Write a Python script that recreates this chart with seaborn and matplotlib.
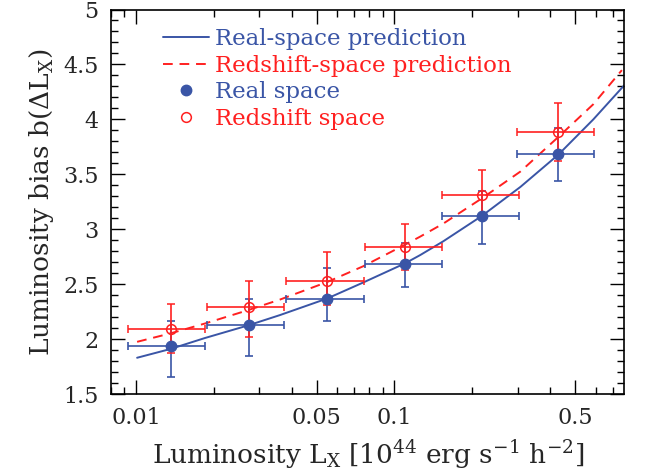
import matplotlib
matplotlib.use('Agg')
import matplotlib.pyplot as plt
import matplotlib.ticker as mticker
from matplotlib.lines import Line2D
import numpy as np
import seaborn as sns

# luminosity bins (centre and bin edges), 10^44 erg/s/h^2
lum = [0.0137, 0.0274, 0.0548, 0.110, 0.218, 0.431]
lum_lo = [0.0093, 0.0188, 0.0380, 0.0770, 0.1525, 0.299]
lum_hi = [0.0185, 0.0375, 0.0761, 0.1525, 0.304, 0.593]

# measured bias, real space
b_real = [1.936, 2.128, 2.367, 2.68, 3.122, 3.681]
b_real_lo = [1.657, 1.845, 2.164, 2.47, 2.862, 3.44]
b_real_hi = [2.167, 2.361, 2.649, 2.874, 3.35, 3.917]

# measured bias, redshift space
b_red = [2.091, 2.288, 2.530, 2.84, 3.310, 3.886]
b_red_lo = [1.875, 2.018, 2.309, 2.628, 3.09, 3.622]
b_red_hi = [2.316, 2.53, 2.795, 3.046, 3.535, 4.145]

# model predictions
curve_lum_real = [0.0101, 0.0136, 0.0185, 0.0272, 0.036, 0.055, 0.0757, 0.110,
                  0.1258, 0.1544, 0.2175, 0.307, 0.431, 0.588, 0.774]
curve_b_real = [1.83, 1.91, 2.01, 2.125, 2.218, 2.37, 2.515, 2.69,
                2.765, 2.89, 3.12, 3.385, 3.68, 4.0, 4.31]
curve_lum_red = [0.0101, 0.0136, 0.0185, 0.0272, 0.036, 0.055, 0.0757, 0.110,
                 0.1258, 0.1544, 0.2175, 0.307, 0.431, 0.588, 0.758]
curve_b_red = [1.975, 2.052, 2.142, 2.264, 2.359, 2.52, 2.663, 2.86,
               2.933, 3.051, 3.28, 3.525, 3.841, 4.138, 4.448]

BLUE = '#3a55a6'
RED = '#ff2020'

sns.set_theme(style='ticks')
plt.rcParams['font.family'] = ['DejaVu Serif']
plt.rcParams['mathtext.fontset'] = 'dejavuserif'

fig, ax = plt.subplots(figsize=(6.45, 4.75), dpi=100)
fig.subplots_adjust(left=0.172, right=0.968, bottom=0.1705, top=0.980)

sns.lineplot(x=curve_lum_real, y=curve_b_real, color=BLUE, lw=1.4, ax=ax)
sns.lineplot(x=curve_lum_red, y=curve_b_red, color=RED, lw=1.4,
             linestyle=(0, (5, 3.5)), ax=ax)

lum_a = np.array(lum)
xerr = [lum_a - np.array(lum_lo), np.array(lum_hi) - lum_a]

ax.errorbar(lum, b_real, xerr=xerr,
            yerr=[np.array(b_real) - np.array(b_real_lo), np.array(b_real_hi) - np.array(b_real)],
            fmt='o', color=BLUE, ms=7.5, elinewidth=1.2, capsize=3, capthick=1.2)
ax.errorbar(lum, b_red, xerr=xerr,
            yerr=[np.array(b_red) - np.array(b_red_lo), np.array(b_red_hi) - np.array(b_red)],
            fmt='o', color=RED, mfc='none', mec=RED, mew=1.1, ms=7,
            elinewidth=1.2, capsize=3, capthick=1.2)

ax.set_xscale('log')
ax.set_xlim(0.008, 0.775)
ax.set_ylim(1.5, 5)
ax.xaxis.set_major_locator(mticker.FixedLocator([0.01, 0.05, 0.1, 0.5]))
ax.xaxis.set_major_formatter(mticker.FuncFormatter(lambda v, p: '%g' % v))
ax.xaxis.set_minor_locator(mticker.FixedLocator(
    [0.008, 0.009, 0.02, 0.03, 0.04, 0.06, 0.07, 0.08, 0.09, 0.2, 0.3, 0.4, 0.6, 0.7]))
ax.xaxis.set_minor_formatter(mticker.NullFormatter())
ax.yaxis.set_major_locator(mticker.MultipleLocator(0.5))
ax.yaxis.set_minor_locator(mticker.MultipleLocator(0.1))
ax.yaxis.set_major_formatter(mticker.FuncFormatter(lambda v, p: '%g' % v))

ax.tick_params(which='both', direction='in', top=True, right=True,
               width=1.0, color='black', labelsize=16, pad=9)
ax.tick_params(which='major', length=10)
ax.tick_params(which='minor', length=5)
for s in ax.spines.values():
    s.set_linewidth(1.2)
    s.set_color('black')

ax.set_xlabel(r'Luminosity L$_{\rm X}$ [10$^{44}$ erg s$^{-1}$ h$^{-2}$]',
              fontsize=19, labelpad=7)
ax.set_ylabel(r'Luminosity bias b($\Delta$L$_{\rm X}$)', fontsize=19, labelpad=5)

handles = [
    Line2D([], [], color=BLUE, lw=1.4),
    Line2D([], [], color=RED, lw=1.4, linestyle=(0, (5, 3.5))),
    Line2D([], [], color=BLUE, marker='o', ls='none', ms=7.5),
    Line2D([], [], color=RED, marker='o', ls='none', ms=7, mfc='none', mew=1.1),
]
labels = ['Real-space prediction', 'Redshift-space prediction',
          'Real space', 'Redshift space']
ax.legend(handles, labels, loc='upper left', bbox_to_anchor=(0.101, 0.952),
          frameon=False, fontsize=16.5, handlelength=2.0, handletextpad=0.28,
          labelspacing=0.2, borderpad=0, borderaxespad=0,
          labelcolor=[BLUE, RED, BLUE, RED])

fig.savefig('out.png', dpi=100)
